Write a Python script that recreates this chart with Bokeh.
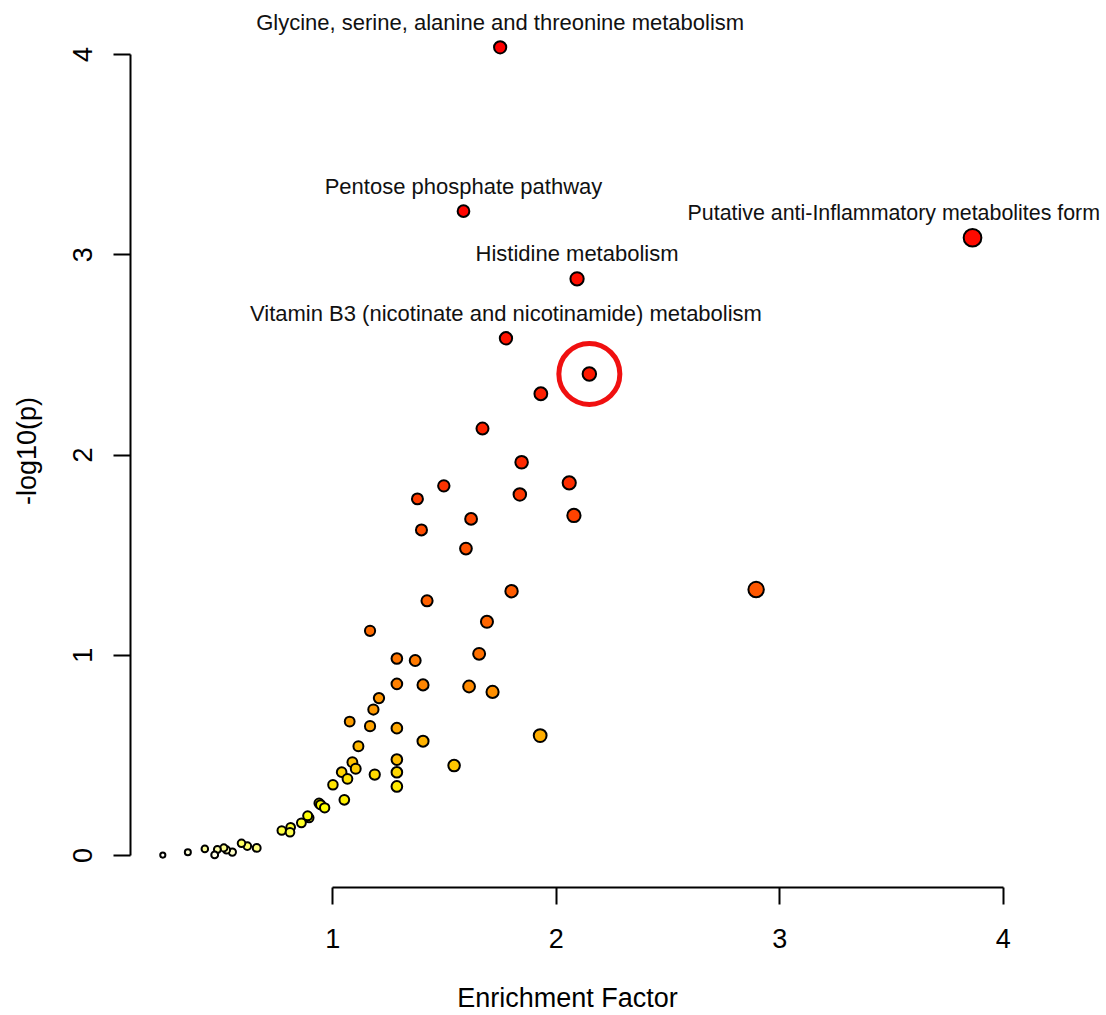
import colorsys
import numpy as np
from bokeh.plotting import figure
from bokeh.models import ColumnDataSource, Range1d, FixedTicker
from bokeh.core.properties import value
from bokeh.embed import file_html
from bokeh.resources import INLINE

# ---- data ----
enrichment = [1.749, 1.585, 3.862, 2.093, 1.775, 2.148, 1.931, 1.670, 1.845, 2.058,
              1.497, 1.837, 1.379, 2.079, 1.619, 1.397, 1.596, 2.894, 1.800, 1.422,
              1.690, 1.167, 1.655, 1.287, 1.369, 1.287, 1.404, 1.610, 1.715, 1.207,
              1.182, 1.076, 1.167, 1.287, 1.928, 1.404, 1.115, 1.287, 1.088, 1.543,
              1.103, 1.040, 1.287, 1.188, 1.066, 1.001, 1.287, 1.052, 0.939, 0.946,
              0.964, 0.894, 0.888, 0.860, 0.812, 0.772, 0.809, 0.660, 0.618, 0.592,
              0.551, 0.525, 0.513, 0.484, 0.472, 0.428, 0.352, 0.240]
neglogp = [4.036, 3.218, 3.085, 2.880, 2.583, 2.405, 2.306, 2.132, 1.964, 1.861,
           1.846, 1.803, 1.781, 1.698, 1.681, 1.626, 1.533, 1.328, 1.320, 1.272,
           1.167, 1.122, 1.007, 0.984, 0.974, 0.857, 0.852, 0.844, 0.817, 0.786,
           0.729, 0.669, 0.646, 0.636, 0.599, 0.571, 0.546, 0.479, 0.466, 0.449,
           0.433, 0.416, 0.416, 0.404, 0.383, 0.353, 0.345, 0.278, 0.261, 0.253,
           0.238, 0.188, 0.198, 0.163, 0.141, 0.125, 0.116, 0.038, 0.047, 0.061,
           0.017, 0.028, 0.038, 0.030, 0.003, 0.033, 0.016, 0.002]
label_idx = [0, 1, 3, 4]
label_names = ["Glycine, serine, alanine and threonine metabolism",
               "Pentose phosphate pathway",
               "Histidine metabolism",
               "Vitamin B3 (nicotinate and nicotinamide) metabolism"]
# the right-most label runs to the picture edge in the reference
edge_label_idx = 2
edge_label_name = "Putative anti-Inflammatory metabolites form"
highlight_idx = 5
x_ticks = [1, 2, 3, 4]
y_ticks = [0, 1, 2, 3, 4]
x_title = "Enrichment Factor"
y_title = "-log10(p)"


def heat_colors(n):
    j = n // 4
    i = n - j
    cols = []
    for h in np.linspace(0, 1 / 6, i):
        cols.append(colorsys.hsv_to_rgb(h, 1, 1))
    if j > 0:
        for s in np.linspace(1 - 1 / (2 * j), 1 / (2 * j), j):
            cols.append(colorsys.hsv_to_rgb(1 / 6, s, 1))
    return ["#%02x%02x%02x" % (int(round(r * 255)), int(round(g * 255)), int(round(b * 255)))
            for r, g, b in cols]


x = np.array(enrichment)
y = np.array(neglogp)
n = len(x)
order = np.argsort(-y, kind="stable")
pal = heat_colors(n)
colors = [None] * n
for rank, idx in enumerate(order):
    colors[idx] = pal[rank]
sizes = (3.0 + 8.5 * np.sqrt(x)) - 2.0

src = ColumnDataSource(dict(x=x, y=y, color=colors, size=sizes))

FONT = "Liberation Sans"

# R-style plot region: xlim/ylim = data range +- 4 %
x_lo, x_hi = 0.0955, 4.005
y_lo, y_hi = -0.1598, 4.20
W, H = 1106, 1015
LEFT, RIGHT, TOP, BOTTOM = 130, 102, 14, 128

p = figure(width=W, height=H, output_backend="svg", toolbar_location=None,
           x_range=Range1d(x_lo, x_hi), y_range=Range1d(y_lo, y_hi),
           min_border_left=LEFT, min_border_right=RIGHT, min_border_top=TOP,
           min_border_bottom=BOTTOM, background_fill_color="white",
           border_fill_color="white")
p.outline_line_color = None
p.grid.visible = False

p.scatter("x", "y", source=src, size="size", fill_color="color",
          line_color="black", line_width=2)

# labels
lab = ColumnDataSource(dict(x=x[label_idx], y=y[label_idx], t=label_names))
p.text("x", "y", text="t", source=lab, text_align="center", text_baseline="middle",
       y_offset=-25, text_font=value(FONT), text_font_size="22px", text_color="#111111",
       level="overlay")
p.text([x[edge_label_idx]], [y[edge_label_idx]], text=[edge_label_name],
       text_align="left", text_baseline="middle", x_offset=-285, y_offset=-25,
       text_font=value(FONT), text_font_size="21.4px", text_color="#111111",
       level="overlay")

# highlight circle
p.scatter([x[highlight_idx]], [y[highlight_idx]], size=61, fill_color=None,
          line_color="#f01010", line_width=5)

for ax in (p.xaxis[0], p.yaxis[0]):
    ax.axis_line_width = 2
    ax.axis_line_color = "black"
    ax.major_tick_line_width = 2
    ax.major_tick_line_color = "black"
    ax.major_tick_out = 17
    ax.major_tick_in = 0
    ax.minor_tick_line_color = None
    ax.major_label_text_font = FONT
    ax.major_label_text_font_size = "27px"
    ax.major_label_text_color = "black"
    ax.axis_label_text_font = FONT
    ax.axis_label_text_font_size = "27px"
    ax.axis_label_text_font_style = "normal"
    ax.axis_label_text_color = "black"

p.xaxis[0].ticker = FixedTicker(ticks=x_ticks)
p.xaxis[0].bounds = (1, 4)
p.xaxis[0].axis_label = x_title
p.xaxis[0].major_label_standoff = 24
p.xaxis[0].axis_label_standoff = 32

p.yaxis[0].ticker = FixedTicker(ticks=y_ticks)
p.yaxis[0].bounds = (0, 4)
p.yaxis[0].axis_label = y_title
p.yaxis[0].major_label_orientation = "parallel"
p.yaxis[0].major_label_standoff = 21
p.yaxis[0].axis_label_standoff = 29

open("out.html", "w").write(file_html(p, INLINE))
